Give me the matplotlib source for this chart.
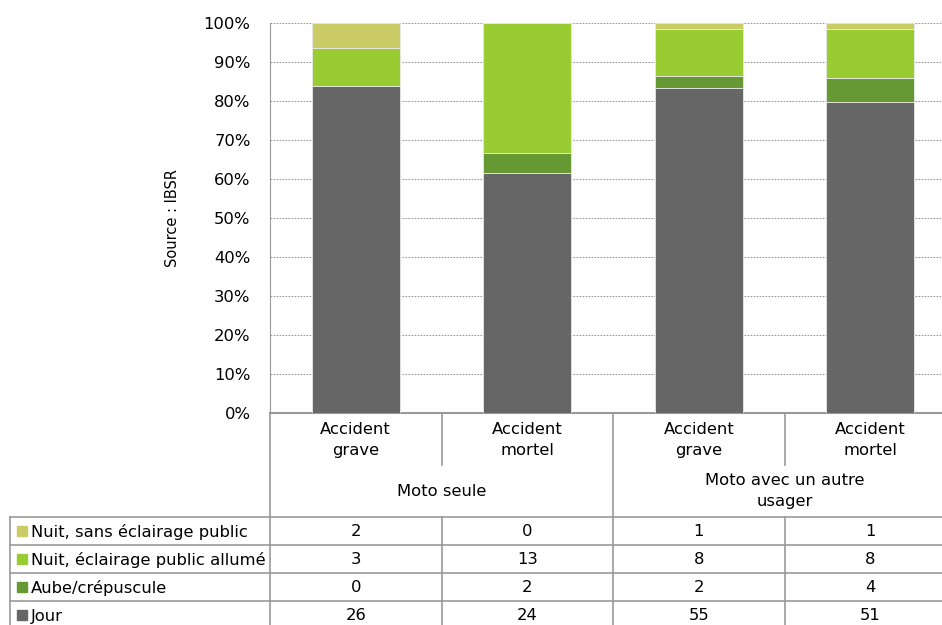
import numpy as np
import matplotlib.pyplot as plt
from matplotlib.lines import Line2D

# data
categories = ['Accident\ngrave', 'Accident\nmortel', 'Accident\ngrave', 'Accident\nmortel']
groups = ['Moto seule', 'Moto avec un autre\nusager']
series = ['Nuit, sans éclairage public', 'Nuit, éclairage public allumé', 'Aube/crépuscule', 'Jour']
colors = ['#CCCC66', '#99CC33', '#669933', '#666666']
nuit_sans = [2, 0, 1, 1]
nuit_allume = [3, 13, 8, 8]
aube = [0, 2, 2, 4]
jour = [26, 24, 55, 51]
values = [nuit_sans, nuit_allume, aube, jour]

plt.rcParams['font.family'] = ['DejaVu Sans']
W, H = 942, 625
fig = plt.figure(figsize=(W / 100, H / 100), dpi=100)

# layout in pixels
left, top, bottom = 270, 23, 413
colw = 171.5
ax = fig.add_axes([left / W, 1 - bottom / H, 4 * colw / W, (bottom - top) / H])

counts = np.array(values, dtype=float)
totals = counts.sum(axis=0)
pct = counts / totals * 100
x = np.arange(len(categories))

# stack from Jour upwards
base = np.zeros(len(categories))
for i in [3, 2, 1, 0]:
    ax.bar(x, pct[i], 0.515, bottom=base, color=colors[i], edgecolor='#e8e8e8', linewidth=0.6, zorder=3)
    base += pct[i]

ax.set_xlim(-0.5, 3.5)
ax.set_ylim(0, 100)
ax.set_yticks(range(0, 101, 10))
ax.set_yticklabels([f'{v}%' for v in range(0, 101, 10)], fontsize=11.8)
ax.yaxis.grid(True, linestyle=(0, (1.5, 1.2)), color='#999999', linewidth=0.8, zorder=0)
ax.tick_params(axis='y', length=0, pad=14)
ax.set_xticks([])
for s in ['top', 'right']:
    ax.spines[s].set_visible(False)
ax.spines['left'].set_color('#999999')
ax.spines['bottom'].set_color('#999999')
ax.spines['bottom'].set_linewidth(1.5)
ax.set_ylabel('Source : IBSR', fontsize=10.5, labelpad=17)

# table drawn on an overlay in pixel coordinates
ov = fig.add_axes([0, 0, 1, 1])
ov.set_xlim(0, W)
ov.set_ylim(H, 0)
ov.axis('off')
ov.patch.set_alpha(0)

lc = '#9a9a9a'
def hline(y, x0, x1):
    ov.add_line(Line2D([x0, x1], [y, y], color=lc, linewidth=1.2))
def vline(xp, y0, y1):
    ov.add_line(Line2D([xp, xp], [y0, y1], color=lc, linewidth=1.2))

row_top = 517
row_h = 28
vline(left, bottom, H)
vline(left + 2 * colw, bottom, H)
vline(left + colw, bottom, 465)
vline(left + 3 * colw, bottom, 465)
vline(left + colw, row_top, H)
vline(left + 3 * colw, row_top, H)
vline(10, row_top, H)
for r in range(4):
    hline(row_top + r * row_h, 10, W)

fs = 11.8
for j, c in enumerate(categories):
    ov.text(left + (j + 0.5) * colw, 440, c, ha='center', va='center', fontsize=fs, linespacing=1.45)
for g, name in enumerate(groups):
    ov.text(left + (2 * g + 1) * colw, 491, name, ha='center', va='center', fontsize=fs, linespacing=1.45)

for r, name in enumerate(series):
    yc = row_top + r * row_h + row_h / 2
    ov.add_patch(plt.Rectangle((17, yc - 5), 10, 10, color=colors[r]))
    ov.text(31, yc + 1, name, ha='left', va='center', fontsize=fs)
    for j in range(len(categories)):
        ov.text(left + (j + 0.5) * colw, yc + 1, str(values[r][j]), ha='center', va='center', fontsize=fs)

plt.savefig('out.png', dpi=100)
